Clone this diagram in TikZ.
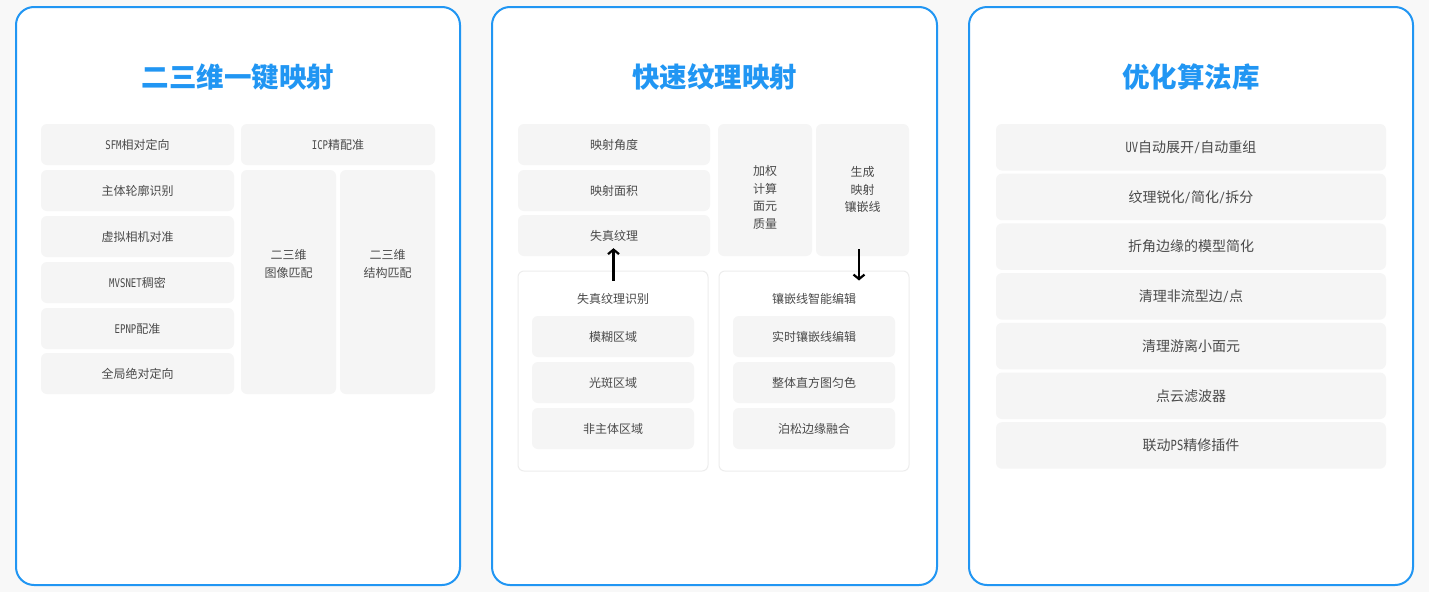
\documentclass[tikz,border=0pt]{standalone}
\usepackage{fontspec}
\setmainfont{Noto Sans CJK SC}
\newfontfamily\latmono{DejaVu Sans Mono}[FakeStretch=0.75]
\newcommand{\mylat}[1]{{\latmono #1}}
\usetikzlibrary{arrows.meta,calc,fit}
\definecolor{bluec}{HTML}{2196F3}
\definecolor{bgc}{HTML}{F8F8F8}
\definecolor{boxc}{HTML}{F5F5F5}
\definecolor{txtc}{HTML}{4A4A4A}
\definecolor{contc}{HTML}{EDEDED}
\tikzset{
  panel/.style={draw=bluec, line width=2pt, rounded corners=18pt, fill=white, inner sep=0pt},
  gbox/.style={fill=boxc, rounded corners=6pt, inner sep=0pt},
  ctext/.style={text=txtc, align=center, inner sep=0pt, font=\fontsize{12}{17.8}\selectfont},
  ctextL/.style={ctext, font=\fontsize{14}{17}\selectfont},
  cont/.style={draw=contc, line width=1pt, fill=white, rounded corners=6pt, inner sep=0pt},
  ttl/.style={text=bluec, inner sep=0pt, font=\fontsize{27.5}{30}\selectfont\bfseries},
  arr/.style={line width=2.2pt, black, -{Straight Barb[length=4.5pt,width=11pt]}}
}
\newcommand{\gb}[7][ctext]{\node[gbox, fit={(#3,#4) (#5,#6)}, label={[#1]center:#7}] (#2) {};}
\begin{document}
\begin{tikzpicture}[x=1pt,y=-1pt]
\useasboundingbox[fill=bgc] (0,0) rectangle (1429,592);
% panels
\node[panel, fit={(16,7) (460,585)}] (p1) {};
\node[panel, fit={(492,7) (937,585)}] (p2) {};
\node[panel, fit={(969,7) (1413,585)}] (p3) {};
\node[ttl] (t1) at (238,77) {二三维一键映射};
\node[ttl] (t2) at (714.5,77) {快速纹理映射};
\node[ttl] (t3) at (1191,77) {优化算法库};
% panel 1
\gb{a1}{41}{124}{234}{165}{\mylat{SFM}相对定向}
\gb{a2}{41}{170}{234}{211}{主体轮廓识别}
\gb{a3}{41}{216}{234}{257}{虚拟相机对准}
\gb{a4}{41}{262}{234}{303}{\mylat{MVSNET}稠密}
\gb{a5}{41}{308}{234}{349}{\mylat{EPNP}配准}
\gb{a6}{41}{353}{234}{394}{全局绝对定向}
\gb{icp}{241}{124}{435}{165}{\mylat{ICP}精配准}
\gb{img}{241}{170}{336}{394}{}
\gb{str}{340}{170}{435}{394}{}
\node[ctext] (imgt) at (288.5,264) {二三维\\图像匹配};
\node[ctext] (strt) at (387.5,264) {二三维\\结构匹配};
% panel 2
\gb{b1}{518}{124}{710}{165}{映射角度}
\gb{b2}{518}{170}{710}{211}{映射面积}
\gb{b3}{518}{215}{710}{256}{失真纹理}
\gb{wq}{718}{124}{812}{256}{}
\gb{gen}{816}{124}{909}{256}{}
\node[ctext] (wqt) at (765,197.5) {加权\\计算\\面元\\质量};
\node[ctext] (gent) at (862.5,189.5) {生成\\映射\\镶嵌线};
\node[cont, fit={(518,271) (708,471)}] (lc) {};
\node[cont, fit={(719,271) (909,471)}] (rc) {};
\node[ctext] (lct) at (613,299) {失真纹理识别};
\node[ctext] (rct) at (814,299) {镶嵌线智能编辑};
\gb{c1}{532}{316}{694}{357}{模糊区域}
\gb{c2}{532}{362}{694}{403}{光斑区域}
\gb{c3}{532}{408}{694}{449}{非主体区域}
\gb{d1}{733}{316}{895}{357}{实时镶嵌线编辑}
\gb{d2}{733}{362}{895}{403}{整体直方图匀色}
\gb{d3}{733}{408}{895}{449}{泊松边缘融合}
\draw[arr] ($(lc.north)+(0.5,10)$) -- ($(b3.south -| lc.north)+(0.5,-8)$);
\draw[arr] ($(gen.south)+(-3.5,-7)$) -- ($(gen.south |- rc.north)+(-3.5,10)$);
% panel 3
\gb[ctextL]{e1}{996}{124}{1386}{170.5}{\mylat{UV}自动展开\mylat{/}自动重组}
\gb[ctextL]{e2}{996}{173.7}{1386}{220.2}{纹理锐化\mylat{/}简化\mylat{/}拆分}
\gb[ctextL]{e3}{996}{223.4}{1386}{269.9}{折角边缘的模型简化}
\gb[ctextL]{e4}{996}{273.1}{1386}{319.6}{清理非流型边\mylat{/}点}
\gb[ctextL]{e5}{996}{322.8}{1386}{369.3}{清理游离小面元}
\gb[ctextL]{e6}{996}{372.5}{1386}{419}{点云滤波器}
\gb[ctextL]{e7}{996}{422.2}{1386}{468.7}{联动\mylat{PS}精修插件}
\end{tikzpicture}
\end{document}
